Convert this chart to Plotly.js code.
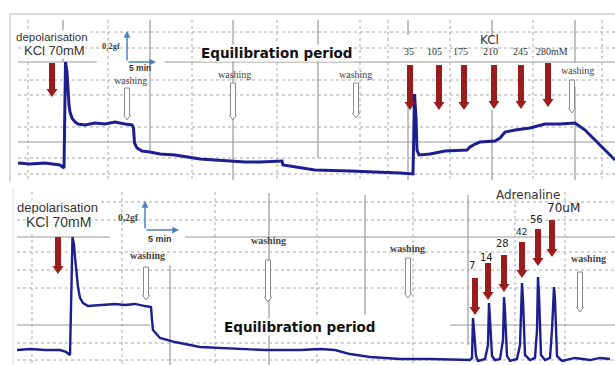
<!DOCTYPE html>
<html>
<head>
<meta charset="utf-8">
<script src="https://cdn.plot.ly/plotly-3.0.1.min.js"></script>
<style>html,body{margin:0;padding:0;background:#fff;}#chart{width:615px;height:365px;}</style>
</head>
<body>
<div id="chart"></div>
<script>
// ---- Data read from the recording (time in min, tension in gf) ----
const topTime = [3.6, 6, 9, 11, 12, 12.8, 13.1, 13.4, 13.6, 13.8, 14, 14.4, 15, 15.6, 17, 19, 21, 23, 25, 26.4, 26.7, 26.9, 27.4, 28.4, 30, 32, 35, 38, 40, 43, 46, 49, 52, 55, 56.4, 56.6, 60, 63, 70, 76, 80, 82.6, 82.9, 83.2, 83.4, 83.8, 86, 89, 92, 93.4, 94, 95, 96, 99, 100, 101, 103, 106, 109, 112, 115, 117, 119, 121, 123];
const topTension = [0.113, 0.107, 0.113, 0.107, 0.100, 0.080, 0.787, 0.720, 0.600, 0.500, 0.453, 0.413, 0.387, 0.373, 0.367, 0.380, 0.373, 0.387, 0.373, 0.367, 0.347, 0.247, 0.213, 0.193, 0.187, 0.173, 0.167, 0.153, 0.140, 0.133, 0.127, 0.120, 0.120, 0.127, 0.127, 0.100, 0.080, 0.067, 0.060, 0.053, 0.047, 0.040, 0.573, 0.420, 0.200, 0.167, 0.173, 0.193, 0.200, 0.200, 0.220, 0.240, 0.253, 0.260, 0.280, 0.320, 0.333, 0.347, 0.373, 0.373, 0.380, 0.333, 0.267, 0.200, 0.133];

const bottomTime = [3.4, 6, 9, 12, 13.2, 14, 14.5, 14.8, 15, 15.4, 15.6, 16, 16.6, 17.6, 20, 23, 25, 27, 29, 30.2, 30.4, 30.6, 32, 35, 40, 46, 53, 60, 64, 67, 70, 74, 80, 86, 93, 94, 94.4, 94.6, 94.8, 95.2, 95.6, 97, 97.6, 97.8, 98, 98.4, 99, 100, 100.6, 100.8, 101, 101.4, 102, 103.4, 104, 104.4, 104.6, 105, 106, 107, 107.4, 107.6, 107.8, 108.2, 109, 110, 110.4, 110.8, 111, 111.4, 112.4, 115, 118, 120, 122];
const bottomTension = [0.100, 0.107, 0.100, 0.100, 0.087, 0.067, 0.853, 0.800, 0.720, 0.600, 0.520, 0.447, 0.413, 0.393, 0.400, 0.407, 0.400, 0.407, 0.393, 0.387, 0.300, 0.233, 0.180, 0.153, 0.120, 0.113, 0.100, 0.100, 0.107, 0.100, 0.073, 0.053, 0.040, 0.040, 0.033, 0.033, 0.047, 0.313, 0.233, 0.060, 0.027, 0.040, 0.133, 0.413, 0.300, 0.060, 0.033, 0.040, 0.167, 0.453, 0.353, 0.060, 0.027, 0.040, 0.133, 0.547, 0.433, 0.067, 0.033, 0.047, 0.233, 0.587, 0.467, 0.067, 0.033, 0.047, 0.233, 0.520, 0.433, 0.060, 0.027, 0.047, 0.033, 0.047, 0.040];

const kclDoses = ['35', '105', '175', '210', '245', '280mM'];
const adrenalineDoses = ['7', '14', '28', '42', '56', '70uM'];

// ---- Layout helpers (pixel -> paper) ----
const W = 615, H = 365;
const px = x => x / W, py = y => 1 - y / H;
const shapes = [], annotations = [];
function seg(x0, y0, x1, y1, color, width, dash) {
  shapes.push({type: 'line', xref: 'paper', yref: 'paper', layer: 'below',
    x0: px(x0), y0: py(y0), x1: px(x1), y1: py(y1), line: {color, width, dash: dash || 'solid'}});
}
function arrow(x, y0, y1, sw, hw, hl, fill, lineColor, lw) {
  const pts = [[x - sw / 2, y0], [x + sw / 2, y0], [x + sw / 2, y1 - hl], [x + hw / 2, y1 - hl], [x, y1], [x - hw / 2, y1 - hl], [x - sw / 2, y1 - hl]];
  shapes.push({type: 'path', xref: 'paper', yref: 'paper', layer: 'above',
    path: 'M' + pts.map(p => px(p[0]).toFixed(5) + ',' + py(p[1]).toFixed(5)).join('L') + 'Z',
    fillcolor: fill, line: {color: lineColor || fill, width: lw || 0}});
}
const redArrow = (x, y0, y1) => arrow(x, y0, y1, 6, 11, 8, '#9b1c1c');
const washArrow = (x, y0, y1) => arrow(x, y0, y1, 5, 7, 5, '#ffffff', '#8a8a8a', 1);
function txt(text, x, y, size, family, color, weight, bg) {
  annotations.push({text, x: px(x), y: py(y), xref: 'paper', yref: 'paper', showarrow: false,
    xanchor: 'center', yanchor: 'middle', borderpad: 0,
    bgcolor: bg || 'rgba(0,0,0,0)',
    font: {size, family, color: color || '#2a2a2a', weight: weight || 'normal'}});
}
function scaleArrow(xt, yt, ax, ay) {
  annotations.push({text: '', x: px(xt), y: py(yt), xref: 'paper', yref: 'paper', showarrow: true,
    ax, ay, arrowhead: 2, arrowsize: 0.9, arrowwidth: 1.5, arrowcolor: '#4f81bd', standoff: 0});
}
const SANS = 'Liberation Sans, Arial, sans-serif';
const WIDE = 'DejaVu Sans, sans-serif';
const SERIF = 'Liberation Serif, Times New Roman, serif';
const DOT = '3px,3px';
const GRID = '#a8a8a8', SOLID = '#999999';

// ---- Top panel grid ----
seg(10, 14, 615, 14, '#cfcfcf', 1.5);
seg(10, 14, 10, 182, '#cfcfcf', 1.5);
[32, 48, 80, 95, 127, 158, 174].forEach(y => seg(18, y, 615, y, GRID, 1, DOT));
[28, 108, 192, 277, 360, 388, 450, 533, 602].forEach(x => seg(x, 20, x, 180, GRID, 1, DOT));
seg(18, 62, 97, 62, SOLID, 1.2); seg(165, 62, 615, 62, SOLID, 1.2);
seg(18, 142, 615, 142, SOLID, 1.2);
[[63, 20, 63, 62], [150, 20, 150, 150], [233, 20, 233, 180], [318, 20, 318, 158], [408, 20, 408, 35], [408, 95, 408, 180],
 [492, 20, 492, 37], [492, 110, 492, 180], [575, 20, 575, 63], [575, 87, 575, 180]].forEach(s => seg(s[0], s[1], s[2], s[3], SOLID, 1.2));

// ---- Bottom panel grid ----
seg(13, 188, 13, 365, '#dedede', 1);
[202, 220, 252, 270, 288, 343, 360].forEach(y => seg(17, y, 615, y, GRID, 1, DOT));
[32, 122, 215, 317, 413, 515, 565].forEach(x => seg(x, 192, x, 365, GRID, 1, DOT));
seg(17, 237, 110, 237, SOLID, 1.2); seg(185, 237, 615, 237, SOLID, 1.2);
seg(17, 325, 150, 325, SOLID, 1.2); seg(450, 325, 615, 325, SOLID, 1.2);
[[170, 265, 170, 365], [269, 193, 269, 365], [365, 195, 365, 315], [468, 195, 468, 345]].forEach(s => seg(s[0], s[1], s[2], s[3], SOLID, 1.2));

// ---- Top panel annotations ----
txt('depolarisation', 52, 37, 11.5, SANS, '#333', 'normal', '#fff');
txt('KCl 70mM', 54, 50, 13, SANS, '#333', 'normal', '#fff');
txt('0,2gf', 111, 46, 8.5, SERIF, '#444', 'bold');
scaleArrow(127, 31, 0, 31); scaleArrow(156, 62, -29, 0);
txt('5 min', 140, 68, 8.5, SANS, '#333', 'bold');
txt('Equilibration period', 277, 53, 13.5, WIDE, '#111', 'bold', '#fff');
txt('KCl', 489, 40, 12, WIDE, '#333');
const kclX = [409, 434, 460, 490, 520, 552];
kclDoses.forEach((d, i) => txt(d, kclX[i], 52, 10, SERIF, '#333'));
[[130, 80], [234, 75], [355, 74], [577, 71]].forEach(p => txt('washing', p[0], p[1], 10, SERIF, '#444'));
redArrow(52, 63, 97);
[[410, 65, 110], [439, 65, 110], [464, 65, 110], [494, 65, 109], [521, 65, 109], [548, 63, 107]].forEach(a => redArrow(a[0], a[1], a[2]));
[[127, 88, 120], [233, 83, 120], [356, 83, 118], [572, 80, 113]].forEach(a => washArrow(a[0], a[1], a[2]));

// ---- Bottom panel annotations ----
txt('depolarisation', 57, 207, 13, SANS, '#333', 'normal', '#fff');
txt('KCl 70mM', 58, 222, 14, SANS, '#333', 'normal', '#fff');
txt('0,2gf', 128, 218, 9.5, SERIF, '#444', 'bold');
scaleArrow(145, 201, 0, 29); scaleArrow(179, 230, -34, 0);
txt('5 min', 160, 239, 9, SANS, '#333', 'bold');
txt('Equilibration period', 300, 327, 13.5, WIDE, '#111', 'bold', '#fff');
txt('Adrenaline', 528, 195, 12, WIDE, '#333');
const adrPos = [[472, 265, 10], [486, 257, 10], [502, 243, 10], [521, 232, 9], [536, 219, 10], [563, 208, 12]];
adrenalineDoses.forEach((d, i) => txt(d, adrPos[i][0], adrPos[i][1], adrPos[i][2], WIDE, '#222'));
[[147, 255], [268, 240], [407, 248], [588, 258]].forEach(p => txt('washing', p[0], p[1], 10, SERIF, '#444', 'bold'));
redArrow(58, 237, 274);
[[475, 278, 315], [488, 263, 300], [504, 255, 292], [522, 242, 278], [538, 229, 266], [552, 220, 257]].forEach(a => redArrow(a[0], a[1], a[2]));
[[146, 267, 300], [268, 260, 302], [408, 258, 298], [580, 272, 312]].forEach(a => washArrow(a[0], a[1], a[2]));

// ---- Traces ----
const traces = [
  {x: topTime, y: topTension, xaxis: 'x', yaxis: 'y', type: 'scatter', mode: 'lines',
   line: {color: '#1c1f8f', width: 3}, hoverinfo: 'skip'},
  {x: bottomTime, y: bottomTension, xaxis: 'x2', yaxis: 'y2', type: 'scatter', mode: 'lines',
   line: {color: '#1c1f8f', width: 2.4}, hoverinfo: 'skip'}
];
const hidden = {visible: false, showgrid: false, zeroline: false, fixedrange: true};
const layout = {
  width: W, height: H, margin: {l: 0, r: 0, t: 0, b: 0},
  paper_bgcolor: '#ffffff', plot_bgcolor: 'rgba(0,0,0,0)', showlegend: false,
  xaxis: Object.assign({domain: [0, 1], range: [0, 123], anchor: 'y'}, hidden),
  yaxis: Object.assign({domain: [0.5, 1], range: [-0.0167, 1.2], anchor: 'x'}, hidden),
  xaxis2: Object.assign({domain: [0, 1], range: [0, 123], anchor: 'y2'}, hidden),
  yaxis2: Object.assign({domain: [0, 0.5], range: [0, 1.2167], anchor: 'x2'}, hidden),
  shapes, annotations
};
Plotly.newPlot('chart', traces, layout, {staticPlot: true, displayModeBar: false});
</script>
</body>
</html>
